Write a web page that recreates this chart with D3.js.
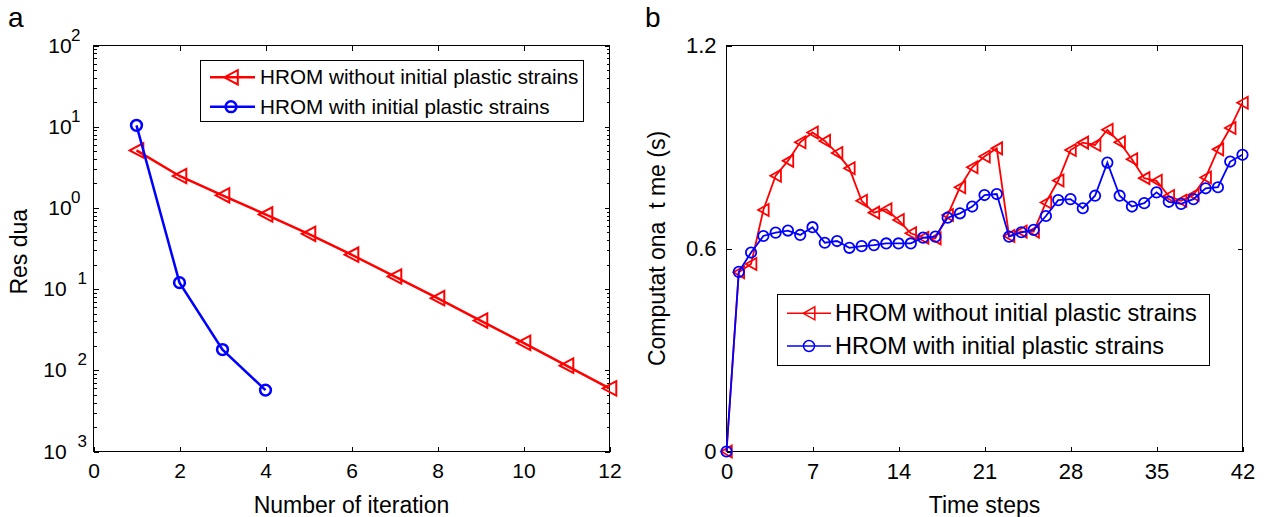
<!DOCTYPE html>
<html>
<head>
<meta charset="utf-8">
<script src="https://cdn.jsdelivr.net/npm/d3@7"></script>
<style>
  body { margin: 0; background: #fff; }
  svg text { font-family: "Liberation Sans", Arial, sans-serif; fill: #000; }
  .axis path.domain { display: none; }
  .axis line { stroke: #000; stroke-width: 1; shape-rendering: crispEdges; }
  rect.box { shape-rendering: crispEdges; }
</style>
</head>
<body>
<div id="container"></div>
<script>
/* DATA */
// panel a: residual vs iteration
const iterRed = [1, 2, 3, 4, 5, 6, 7, 8, 9, 10, 11, 12];
const residRed = [5.1, 2.47, 1.43, 0.83, 0.48, 0.265, 0.143, 0.0773, 0.041, 0.0218, 0.0114, 0.006];
const iterBlue = [1, 2, 3, 4];
const residBlue = [10.4, 0.12, 0.018, 0.0057];
const iterTicks = [0, 2, 4, 6, 8, 10, 12];
const residExps = [2, 1, 0, -1, -2, -3];

// panel b: computational time vs time step
const timeSteps = [0, 1, 2, 3, 4, 5, 6, 7, 8, 9, 10, 11, 12, 13, 14, 15, 16, 17, 18, 19, 20,
  21, 22, 23, 24, 25, 26, 27, 28, 29, 30, 31, 32, 33, 34, 35, 36, 37, 38, 39, 40, 41, 42];
const timeRed = [0, 0.53, 0.554, 0.714, 0.815, 0.859, 0.914, 0.943, 0.918, 0.882, 0.837,
  0.741, 0.706, 0.716, 0.684, 0.645, 0.632, 0.630, 0.699, 0.781, 0.840, 0.872, 0.896,
  0.637, 0.650, 0.650, 0.736, 0.801, 0.891, 0.913, 0.906, 0.951, 0.914, 0.864, 0.808,
  0.800, 0.755, 0.741, 0.758, 0.810, 0.893, 0.956, 1.031];
const timeBlue = [0, 0.531, 0.588, 0.637, 0.647, 0.653, 0.640, 0.663, 0.617, 0.622, 0.602,
  0.607, 0.610, 0.615, 0.615, 0.615, 0.632, 0.635, 0.691, 0.704, 0.724, 0.758, 0.761,
  0.635, 0.648, 0.655, 0.696, 0.743, 0.746, 0.719, 0.756, 0.854, 0.756, 0.724, 0.734,
  0.766, 0.738, 0.732, 0.746, 0.778, 0.781, 0.857, 0.877];
const stepTicks = [0, 7, 14, 21, 28, 35, 42];
const timeTicks = [0, 0.6, 1.2];

const legendLabels = ["HROM without initial plastic strains", "HROM with initial plastic strains"];
const RED = "#ff0000", BLUE = "#0000ff";

const width = 1264, height = 517;
const plotTop = 45.5, plotBottom = 451.5;

const svg = d3.select('#container').append('svg')
  .attr('width', width).attr('height', height);

// marker helpers
function triPath(s, h) { return `M${-s},0L${s},${-h}L${s},${h}Z`; }

/* ---------- PANEL A ---------- */
const xA = d3.scaleLinear().domain([0, 12]).range([93.5, 609.5]);
const yA = d3.scaleLog().domain([1e-3, 1e2]).range([plotBottom, plotTop]);

const gA = svg.append('g');
gA.append('rect').attr('class', 'box').attr('x', xA(0)).attr('y', plotTop)
  .attr('width', xA(12) - xA(0)).attr('height', plotBottom - plotTop)
  .attr('fill', 'none').attr('stroke', '#000');

gA.append('g').attr('class', 'axis').attr('transform', `translate(0,${plotBottom})`)
  .call(d3.axisBottom(xA).tickValues(iterTicks).tickSize(-5).tickPadding(12))
  .selectAll('text').attr('font-size', 21).style('font-family', null);
gA.append('g').attr('class', 'axis').attr('transform', `translate(0,${plotTop})`)
  .call(d3.axisTop(xA).tickValues(iterTicks.slice(1, -1)).tickSize(-5).tickFormat(''));

const majorA = residExps.map(e => Math.pow(10, e));
const minorA = yA.ticks().filter(v => Math.abs(Math.log10(v) - Math.round(Math.log10(v))) > 1e-6);
[['L', xA(0)], ['R', xA(12)]].forEach(([side, xp]) => {
  const ax = side === 'L' ? d3.axisLeft : d3.axisRight;
  gA.append('g').attr('class', 'axis').attr('transform', `translate(${xp},0)`)
    .call(ax(yA).tickValues(majorA).tickSize(-5).tickFormat(''));
  gA.append('g').attr('class', 'axis').attr('transform', `translate(${xp},0)`)
    .call(ax(yA).tickValues(minorA).tickSize(-3).tickFormat(''));
});

// y tick labels 10^e (minus glyph missing in the original)
residExps.forEach(e => {
  const yp = yA(Math.pow(10, e));
  const neg = e < 0;
  gA.append('text').attr('x', neg ? 66.7 : 71.7).attr('y', yp + 7)
    .attr('text-anchor', 'end').attr('font-size', 21).text('10');
  gA.append('text').attr('x', neg ? 77.5 : 71).attr('y', yp - 5)
    .attr('font-size', 17).text(Math.abs(e));
});

const lineA = d3.line().x(d => xA(d[0])).y(d => yA(d[1]));
const redA = iterRed.map((d, i) => [d, residRed[i]]);
const blueA = iterBlue.map((d, i) => [d, residBlue[i]]);

gA.append('path').datum(redA).attr('d', lineA)
  .attr('fill', 'none').attr('stroke', RED).attr('stroke-width', 2.5);
gA.selectAll('path.triA').data(redA).join('path').attr('class', 'triA')
  .attr('d', triPath(6.8, 7.2))
  .attr('transform', d => `translate(${xA(d[0])},${yA(d[1])})`)
  .attr('fill', 'none').attr('stroke', RED).attr('stroke-width', 2);

gA.append('path').datum(blueA).attr('d', lineA)
  .attr('fill', 'none').attr('stroke', BLUE).attr('stroke-width', 2.5);
gA.selectAll('circle.cirA').data(blueA).join('circle').attr('class', 'cirA')
  .attr('cx', d => xA(d[0])).attr('cy', d => yA(d[1])).attr('r', 5.4)
  .attr('fill', 'none').attr('stroke', BLUE).attr('stroke-width', 2.5);

gA.append('text').attr('x', (xA(0) + xA(12)) / 2).attr('y', 513)
  .attr('text-anchor', 'middle').attr('font-size', 23).text('Number of iteration');
gA.append('text').attr('transform', `translate(26.5,${(plotTop + plotBottom) / 2}) rotate(-90)`)
  .attr('text-anchor', 'middle').attr('font-size', 23).style('white-space', 'pre')
  .text('Res dua ');
gA.append('text').attr('x', 8).attr('y', 27).attr('font-size', 28).text('a');

// legend a
const legA = gA.append('g');
legA.append('rect').attr('class', 'box').attr('x', 200.5).attr('y', 60.5).attr('width', 383).attr('height', 61)
  .attr('fill', '#fff').attr('stroke', '#000');
[[RED, 77.3], [BLUE, 106.7]].forEach(([c, yy], i) => {
  legA.append('line').attr('x1', 210).attr('x2', 255).attr('y1', yy).attr('y2', yy)
    .attr('stroke', c).attr('stroke-width', 2.5);
  if (i === 0) {
    legA.append('path').attr('d', triPath(6.8, 7.2)).attr('transform', `translate(231,${yy})`)
      .attr('fill', 'none').attr('stroke', c).attr('stroke-width', 2);
  } else {
    legA.append('circle').attr('cx', 231).attr('cy', yy).attr('r', 5.4)
      .attr('fill', 'none').attr('stroke', c).attr('stroke-width', 2.5);
  }
  legA.append('text').attr('x', 260).attr('y', yy + 7).attr('font-size', 20.7)
    .text(legendLabels[i]);
});

/* ---------- PANEL B ---------- */
const xB = d3.scaleLinear().domain([0, 42]).range([726.5, 1242.5]);
const yB = d3.scaleLinear().domain([0, 1.2]).range([plotBottom, plotTop]);

const gB = svg.append('g');
gB.append('rect').attr('class', 'box').attr('x', xB(0)).attr('y', plotTop)
  .attr('width', xB(42) - xB(0)).attr('height', plotBottom - plotTop)
  .attr('fill', 'none').attr('stroke', '#000');

gB.append('g').attr('class', 'axis').attr('transform', `translate(0,${plotBottom})`)
  .call(d3.axisBottom(xB).tickValues(stepTicks).tickSize(-5).tickPadding(12).tickFormat(d3.format('d')))
  .selectAll('text').attr('font-size', 22);
gB.append('g').attr('class', 'axis').attr('transform', `translate(0,${plotTop})`)
  .call(d3.axisTop(xB).tickValues(stepTicks.slice(1, -1)).tickSize(-5).tickFormat(''));
gB.append('g').attr('class', 'axis').attr('transform', `translate(${xB(0)},0)`)
  .call(d3.axisLeft(yB).tickValues(timeTicks).tickSize(-5).tickPadding(10).tickFormat(d => d === 0 ? '0' : d3.format('.1f')(d)))
  .selectAll('text').attr('font-size', 22);
gB.append('g').attr('class', 'axis').attr('transform', `translate(${xB(42)},0)`)
  .call(d3.axisRight(yB).tickValues(timeTicks.slice(1, -1)).tickSize(-5).tickFormat(''));

const lineB = d3.line().x(d => xB(d[0])).y(d => yB(d[1]));
const redB = timeSteps.map((t, i) => [t, timeRed[i]]);
const blueB = timeSteps.map((t, i) => [t, timeBlue[i]]);

gB.append('path').datum(redB).attr('d', lineB)
  .attr('fill', 'none').attr('stroke', RED).attr('stroke-width', 1.8);
gB.selectAll('path.triB').data(redB).join('path').attr('class', 'triB')
  .attr('d', triPath(5.3, 6))
  .attr('transform', d => `translate(${xB(d[0])},${yB(d[1])})`)
  .attr('fill', 'none').attr('stroke', RED).attr('stroke-width', 1.8);

gB.append('path').datum(blueB).attr('d', lineB)
  .attr('fill', 'none').attr('stroke', BLUE).attr('stroke-width', 1.8);
gB.selectAll('circle.cirB').data(blueB).join('circle').attr('class', 'cirB')
  .attr('cx', d => xB(d[0])).attr('cy', d => yB(d[1])).attr('r', 5.2)
  .attr('fill', 'none').attr('stroke', BLUE).attr('stroke-width', 1.8);

gB.append('text').attr('x', (xB(0) + xB(42)) / 2).attr('y', 513)
  .attr('text-anchor', 'middle').attr('font-size', 23).text('Time steps');
gB.append('text').attr('transform', `translate(665,${(plotTop + plotBottom) / 2}) rotate(-90)`)
  .attr('text-anchor', 'middle').attr('font-size', 23).style('white-space', 'pre')
  .text('Computat ona  t me (s)');
gB.append('text').attr('x', 645).attr('y', 27).attr('font-size', 28).text('b');

// legend b
const legB = gB.append('g');
legB.append('rect').attr('class', 'box').attr('x', 777.5).attr('y', 294.5).attr('width', 432).attr('height', 71)
  .attr('fill', '#fff').attr('stroke', '#000');
[[RED, 313.3], [BLUE, 346]].forEach(([c, yy], i) => {
  legB.append('line').attr('x1', 787).attr('x2', 831).attr('y1', yy).attr('y2', yy)
    .attr('stroke', c).attr('stroke-width', 1.5);
  if (i === 0) {
    legB.append('path').attr('d', triPath(5.8, 6.5)).attr('transform', `translate(809,${yy})`)
      .attr('fill', 'none').attr('stroke', c).attr('stroke-width', 1.5);
  } else {
    legB.append('circle').attr('cx', 809).attr('cy', yy).attr('r', 5.5)
      .attr('fill', 'none').attr('stroke', c).attr('stroke-width', 1.5);
  }
  legB.append('text').attr('x', 835).attr('y', yy + 8).attr('font-size', 23.5)
    .text(legendLabels[i]);
});
</script>
</body>
</html>
